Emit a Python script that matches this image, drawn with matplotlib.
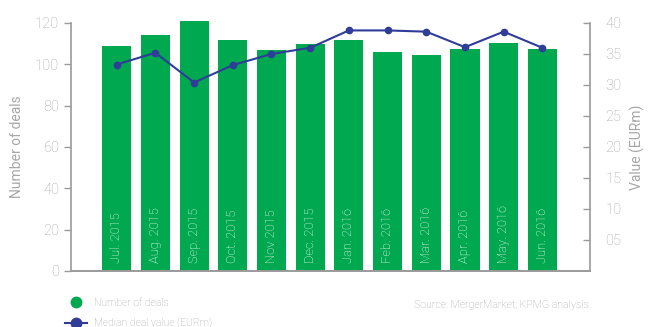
import matplotlib
matplotlib.use("Agg")
import matplotlib.pyplot as plt
from matplotlib.lines import Line2D

months = ["Jul. 2015", "Aug. 2015", "Sep. 2015", "Oct. 2015", "Nov 2015", "Dec. 2015",
          "Jan. 2016", "Feb. 2016", "Mar. 2016", "Apr. 2016", "May. 2016", "Jun. 2016"]
deals = [109, 114, 121, 112, 107, 110, 112, 106, 104.5, 107.5, 110.5, 107.5]
median_value = [33.3, 35.2, 30.4, 33.2, 35.0, 36.0, 38.8, 38.8, 38.6, 36.1, 38.6, 36.0]

left_ticks = [0, 20, 40, 60, 80, 100, 120]
right_ticks = [5, 10, 15, 20, 25, 30, 35, 40]
right_labels = ["05", "10", "15", "20", "25", "30", "35", "40"]

green = "#00A84F"
blue = "#2F3D98"
grey = "#A6A6A6"
spine = "#9A9A9A"

plt.rcParams["font.family"] = ["Roboto", "DejaVu Sans"]
plt.rcParams["font.weight"] = "light"

fig = plt.figure(figsize=(6.5, 3.27), dpi=100)
ax = fig.add_axes([0.1092, 0.1713, 0.7985, 0.7584])
ax2 = ax.twinx()

x = list(range(len(months)))
ax.bar(x, deals, width=0.75, color=green, zorder=2, clip_on=False)
for i, m in enumerate(months):
    ax.text(i, 4, m, rotation=90, ha="center", va="bottom", color="white",
            fontsize=9.3, fontweight="light", zorder=3)

ax2.plot(x, median_value, color=blue, lw=1.5, marker="o", ms=4.5, zorder=4)

ax.set_xlim(-1.18, 12.23)
ax.set_ylim(0, 120)
ax2.set_ylim(0, 40)
ax.set_xticks([])
ax.set_yticks(left_ticks)
ax2.set_yticks(right_ticks)
ax2.set_yticklabels(right_labels)

ax.tick_params(axis="y", direction="out", length=5, width=1, color=spine,
               labelcolor=grey, labelsize=10.5, pad=3.5)
ax2.tick_params(axis="y", direction="in", length=5, width=1, color=spine,
                labelcolor=grey, labelsize=10.5, pad=11)

for a in (ax, ax2):
    a.spines["top"].set_visible(False)
    for s in ("left", "right", "bottom"):
        a.spines[s].set_color(spine)
        a.spines[s].set_linewidth(1.2)
ax.spines["right"].set_visible(False)
ax2.spines["left"].set_visible(False)

ax.set_ylabel("Number of deals", color=grey, fontsize=10, labelpad=8)
ax2.set_ylabel("Value (EURm)", color=grey, fontsize=10, rotation=90, labelpad=6)

ax2.set_zorder(ax.get_zorder() + 1)
ax2.patch.set_visible(False)

handles = [
    Line2D([], [], color=green, marker="o", ls="none", ms=7.5),
    Line2D([], [], color=blue, marker="o", lw=1.5, ms=7.5),
]
fig.legend(handles, ["Number of deals", "Median deal value (EURm)"],
           loc="upper left", bbox_to_anchor=(0.1, 0.09), frameon=False,
           fontsize=7.5, labelcolor=grey, handlelength=2.1, handletextpad=0.7,
           labelspacing=1.0, borderpad=0, borderaxespad=0)

fig.text(0.905, 0.068, "Source: MergerMarket, KPMG analysis", ha="right",
         va="center", color=grey, fontsize=7.7)

fig.savefig("out.png", dpi=100)
